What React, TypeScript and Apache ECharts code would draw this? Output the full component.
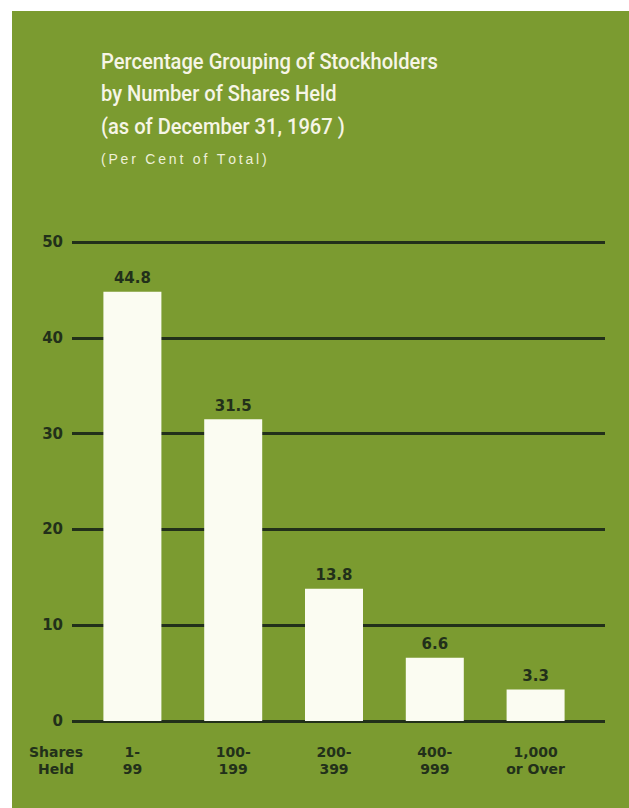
import React, { useEffect, useRef } from "react";
import * as echarts from "echarts";

const categories = ["1-\n99", "100-\n199", "200-\n399", "400-\n999", "1,000\nor Over"];
const percentages = [44.8, 31.5, 13.8, 6.6, 3.3];
const titleLines = [
  "Percentage Grouping of Stockholders",
  "by Number of Shares Held",
  "(as of December 31, 1967 )",
];
const subtitle = "(Per Cent of Total)";
const axisCaption = "Shares\nHeld";

const GREEN = "#7b9b30";
const DARK = "#22301a";
const CREAM = "#fbfcf2";
const LABEL_FONT = "'DejaVu Sans', sans-serif";

export default function App() {
  const ref = useRef<HTMLDivElement>(null);
  useEffect(() => {
    if (!ref.current) return;
    const chart = echarts.init(ref.current, undefined, { renderer: "svg" });
    chart.setOption({
      animation: false,
      backgroundColor: "#ffffff",
      graphic: [
        {
          type: "rect",
          z: -10,
          shape: { x: 12, y: 11, width: 620, height: 800 },
          style: { fill: GREEN },
        },
        ...titleLines.map((t, i) => ({
          type: "text",
          x: 101,
          y: 50 + i * 32.5,
          scaleX: 0.915,
          style: {
            text: t,
            fill: "#f6f5e6",
            font: "500 22px Roboto, sans-serif",
          },
        })),
        {
          type: "text",
          x: 101,
          y: 152,
          style: {
            text: subtitle.split("").join("\u2009"),
            fill: "#eef0d8",
            font: "14px 'Liberation Sans', sans-serif",
          },
        },
        {
          type: "text",
          x: 56,
          y: 743,
          style: {
            text: axisCaption,
            fill: DARK,
            align: "center",
            lineHeight: 17,
            font: "bold 14px " + LABEL_FONT,
          },
        },
      ],
      grid: [
        { left: 82, width: 504, top: 242, height: 479 },
        { left: 72, right: 24, top: 242, height: 479 },
      ],
      xAxis: [
        {
          type: "category",
          gridIndex: 0,
          data: categories,
          axisLine: { show: false },
          axisTick: { show: false },
          axisLabel: {
            color: DARK,
            fontFamily: LABEL_FONT,
            fontWeight: "bold",
            fontSize: 14,
            lineHeight: 17,
            margin: 22,
            interval: 0,
          },
        },
        { type: "value", gridIndex: 1, show: false, min: 0, max: 1 },
      ],
      yAxis: [
        { type: "value", gridIndex: 0, min: 0, max: 50, interval: 10, show: false },
        {
          type: "value",
          gridIndex: 1,
          min: 0,
          max: 50,
          interval: 10,
          axisLine: { show: false },
          axisTick: { show: false },
          splitLine: { lineStyle: { color: DARK, width: 3 } },
          axisLabel: {
            color: DARK,
            fontFamily: LABEL_FONT,
            fontWeight: "bold",
            fontSize: 15,
            margin: 9,
          },
        },
      ],
      series: [
        {
          type: "bar",
          xAxisIndex: 0,
          yAxisIndex: 0,
          data: percentages,
          barWidth: 58,
          itemStyle: { color: CREAM },
          label: {
            show: true,
            position: "top",
            distance: 6,
            color: DARK,
            fontFamily: LABEL_FONT,
            fontWeight: "bold",
            fontSize: 15,
            formatter: (p: any) => p.value.toFixed(1),
          },
        },
      ],
    });
    return () => chart.dispose();
  }, []);
  return (
    <div
      ref={ref}
      style={{ position: "absolute", left: 0, top: 0, width: 629, height: 808 }}
    />
  );
}
